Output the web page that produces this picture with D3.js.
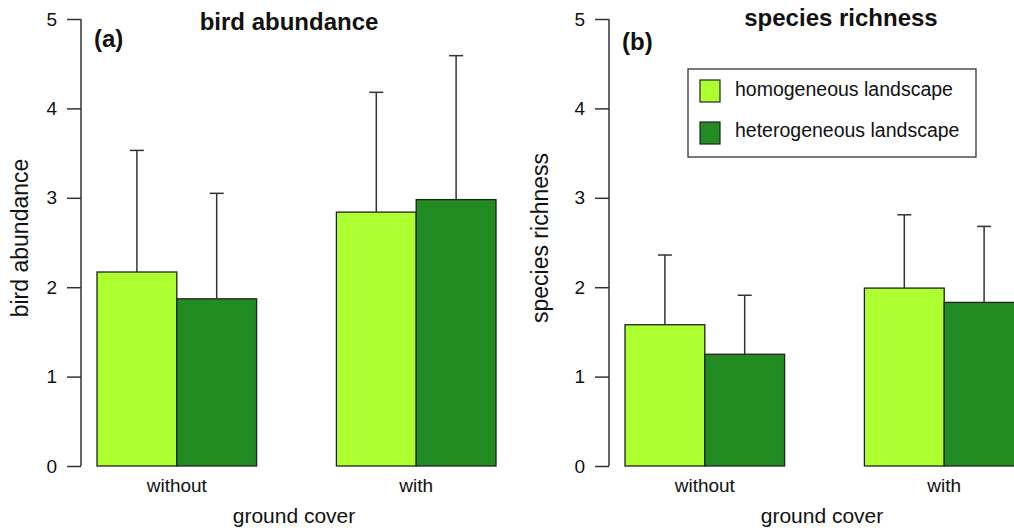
<!DOCTYPE html>
<html>
<head>
<meta charset="utf-8">
<script src="https://cdn.jsdelivr.net/npm/d3@7"></script>
<style>
  body { margin: 0; background: #fff; }
  svg text { font-family: "Liberation Sans", Arial, sans-serif; fill: #111; }
</style>
</head>
<body>
<svg id="chart" width="1014" height="532"></svg>
<script>
// data
var groups = ["without", "with"];
var landscapes = ["homogeneous landscape", "heterogeneous landscape"];
var colors = ["#adff2f", "#228b22"];
var yTicks = [0, 1, 2, 3, 4, 5];

// bird abundance: mean and upper error bar, per group [homo, hetero]
var abundanceMean = [[2.17, 1.87], [2.84, 2.98]];
var abundanceUpper = [[3.53, 3.05], [4.18, 4.59]];

// species richness
var richnessMean = [[1.58, 1.25], [1.99, 1.83]];
var richnessUpper = [[2.36, 1.91], [2.81, 2.68]];

var svg = d3.select("#chart");

function panel(opts) {
    var y = d3.scaleLinear().domain([0, 5]).range([466, 19]);
    var x0 = d3.scaleBand().domain(groups).range(opts.xRange).paddingInner(1 / 3);
    var x1 = d3.scaleBand().domain(d3.range(landscapes.length)).range([0, x0.bandwidth()]);

    var g = svg.append("g");

    // y axis
    var ax = g.append("g")
        .attr("transform", "translate(" + opts.axisX + ",0)")
        .call(d3.axisLeft(y).tickValues(yTicks).tickSize(14).tickPadding(10).tickFormat(d3.format("d")));
    ax.select(".domain").attr("stroke", "#333").attr("stroke-width", 1.5)
        .attr("d", "M0," + y(5) + "V" + y(0));
    ax.selectAll(".tick line").attr("stroke", "#333").attr("stroke-width", 1.5);
    ax.selectAll(".tick text").style("font-size", "19px");

    // bars
    groups.forEach(function(grp, gi) {
        landscapes.forEach(function(l, li) {
            var bx = x0(grp) + x1(li);
            var bw = x1.bandwidth();
            var m = opts.mean[gi][li], u = opts.upper[gi][li];
            g.append("line")
                .attr("x1", bx + bw / 2).attr("x2", bx + bw / 2)
                .attr("y1", y(m)).attr("y2", y(u))
                .attr("stroke", "#333").attr("stroke-width", 1.5);
            g.append("line")
                .attr("x1", bx + bw / 2 - 7).attr("x2", bx + bw / 2 + 7)
                .attr("y1", y(u)).attr("y2", y(u))
                .attr("stroke", "#333").attr("stroke-width", 1.5);
            g.append("rect")
                .attr("x", bx).attr("y", y(m))
                .attr("width", bw).attr("height", y(0) - y(m))
                .attr("fill", colors[li])
                .attr("stroke", "#222").attr("stroke-width", 1.3);
        });
        g.append("text")
            .attr("x", x0(grp) + x0.bandwidth() / 2).attr("y", 492)
            .attr("text-anchor", "middle").style("font-size", "19px")
            .text(grp);
    });

    // titles
    g.append("text")
        .attr("x", opts.titleX).attr("y", opts.titleY)
        .attr("text-anchor", "middle").style("font-size", "24px").style("font-weight", "bold")
        .text(opts.title);
    g.append("text")
        .attr("x", opts.axisX + 13).attr("y", opts.tagY)
        .style("font-size", "24px").style("font-weight", "bold")
        .text(opts.tag);
    g.append("text")
        .attr("transform", "translate(" + opts.yLabelX + ",238) rotate(-90)")
        .attr("text-anchor", "middle").style("font-size", "23px")
        .text(opts.title);
    g.append("text")
        .attr("x", opts.axisX + 213).attr("y", 523)
        .attr("text-anchor", "middle").style("font-size", "21px")
        .text("ground cover");
}

panel({
    xRange: [97, 496], axisX: 81, mean: abundanceMean, upper: abundanceUpper,
    title: "bird abundance", tag: "(a)", titleX: 289, titleY: 30, tagY: 47, yLabelX: 28
});
panel({
    xRange: [625, 1024], axisX: 609, mean: richnessMean, upper: richnessUpper,
    title: "species richness", tag: "(b)", titleX: 841, titleY: 26, tagY: 50, yLabelX: 548
});

// legend
var leg = svg.append("g").attr("transform", "translate(688,69)");
leg.append("rect").attr("width", 288).attr("height", 88)
    .attr("fill", "#fff").attr("stroke", "#333").attr("stroke-width", 1.3);
landscapes.forEach(function(l, i) {
    leg.append("rect")
        .attr("x", 12).attr("y", 11 + i * 42)
        .attr("width", 20).attr("height", 22)
        .attr("fill", colors[i]).attr("stroke", "#222").attr("stroke-width", 1.2);
    leg.append("text")
        .attr("x", 47).attr("y", 27 + i * 41)
        .style("font-size", "19.5px")
        .text(l);
});
</script>
</body>
</html>
